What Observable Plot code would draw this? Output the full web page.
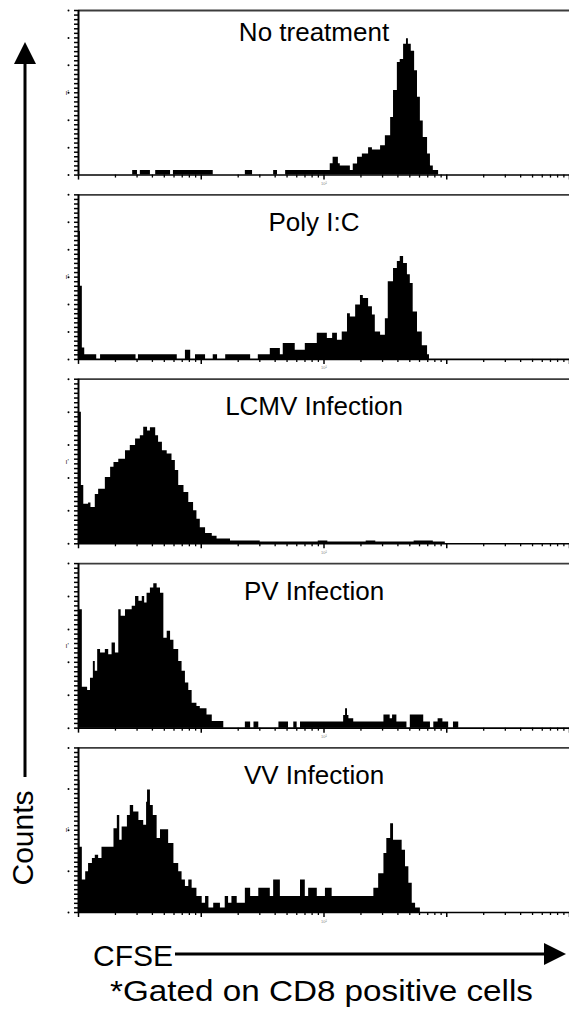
<!DOCTYPE html>
<html>
<head>
<meta charset="utf-8">
<script src="https://cdn.jsdelivr.net/npm/d3@7"></script>
<script src="https://cdn.jsdelivr.net/npm/@observablehq/plot@0.6"></script>
<style>
  html, body { margin: 0; padding: 0; background: #fff; }
  #wrap { position: relative; width: 569px; height: 1014px; font-family: "Liberation Sans", Arial, Helvetica, sans-serif; }
  #wrap svg { display: block; }
  #counts { position: absolute; left: 0; top: 0; }
</style>
</head>
<body>
<div id="wrap"></div>
<script>
// ---------- data (CFSE channel 0..1023 over 4 log decades, count) ----------
const panels = ["No treatment", "Poly I:C", "LCMV Infection", "PV Infection", "VV Infection"];
const yMax = [36, 36, 35, 35, 36];          // top of each panel's count axis
const yMajorStep = [6, 6, 7, 7, 9];          // labelled count ticks per panel
const decades = [1, 10, 100, 1000, 10000];
const minorMultipliers = [2, 3, 4, 5, 6, 7, 8, 9];

const noTreatment = [[0,0],[113,1],[123,0],[129,1],[150,0],[161,1],[192,0],[198,1],[281,0],[348,1],[363,0],[407,1],[415,0],[432,1],[525,2.5],[531,3.9],[542,2.5],[546,2],[567,1],[573,2.4],[582,3.9],[592,4.6],[605,6],[613,5.5],[630,6.4],[640,8.6],[651,12.6],[657,18.5],[665,24.6],[671,25.3],[678,28.6],[684,29.8],[688,28.6],[694,27.1],[701,22.8],[707,17],[713,11.8],[719,8.2],[728,4.6],[734,2],[740,1],[751,0],[1023,0]];

const polyIC = [[0,28],[4,16],[8,2.5],[13,1],[38,0],[46,1],[120,0],[125,1],[206,0],[223,2],[234,0],[244,1],[265,0],[281,1],[290,0],[307,1],[359,0],[375,1],[400,2.4],[421,1],[427,3.5],[452,2],[473,3.5],[498,5.7],[519,4.6],[530,5.7],[540,4.2],[550,6],[561,10],[567,9.3],[578,11.9],[588,14],[594,13.3],[605,11.5],[613,9.7],[619,6],[630,5.3],[640,8.9],[646,17],[657,19.9],[665,21.4],[671,22.5],[678,21],[686,18.5],[692,16.6],[698,10.4],[707,6],[717,3],[728,1],[732,0],[1023,0]];

const lcmv = [[0,28],[6,12.4],[11,8.4],[21,8.7],[26,7.7],[35,10.5],[42,11.6],[56,14.1],[67,16.3],[74,17.3],[84,18],[98,19.8],[108,20.9],[119,22.3],[129,23],[136,24.8],[144,24],[150,24.7],[161,23],[167,21.6],[175,19.8],[185,19.1],[195,17.7],[202,15.6],[209,12.4],[220,10.9],[230,8.8],[240,7],[247,5.2],[254,3.4],[265,2.2],[279,1.6],[289,1],[317,0.6],[379,0.4],[500,0.6],[520,0.4],[600,0.6],[620,0.4],[700,0.6],[740,0.4],[765,0],[1023,0]];

const pv = [[0,25.2],[8,8.7],[19,8],[25,10.6],[31,14.2],[35,12.1],[40,16.7],[46,16],[56,16.7],[63,15.6],[70,18.1],[77,16],[84,25.2],[89,23.8],[98,25.2],[112,25.9],[119,28],[126,27],[133,28],[138,26.6],[143,28.7],[150,29.8],[157,30.7],[164,29.8],[171,28.7],[178,19.1],[185,20.6],[192,18.7],[199,16.7],[209,14.2],[216,12.1],[223,9.6],[230,8],[237,5.3],[247,4.6],[254,4.1],[268,2.8],[279,1.4],[303,0],[348,1.3],[359,0],[366,1.3],[376,0],[418,1.3],[438,0],[449,1.3],[456,0],[463,1.3],[553,2.7],[557,4.1],[561,2.7],[564,2],[574,1.3],[637,2.8],[650,2],[655,2.8],[664,1.3],[685,0],[692,2.8],[720,1.3],[734,0],[741,1.3],[750,2],[760,1.3],[772,0],[782,1.3],[793,0],[1023,0]];

const vv = [[0,28.9],[3,14.3],[8,7.1],[15,8.9],[21,10.7],[29,11.8],[35,12.5],[42,11.8],[49,14.3],[74,18.3],[81,21.2],[86,15.8],[91,18.7],[102,21.2],[108,23.4],[115,22],[126,20.1],[136,19.1],[142,24.1],[144,26.8],[150,23.4],[156,21.2],[164,16.2],[171,18.1],[188,15.1],[199,10.7],[209,8.9],[216,7.1],[223,5.7],[230,7.1],[237,5.3],[247,3.5],[258,2],[265,3.5],[272,1],[282,2],[296,1],[306,3.5],[313,2],[320,3.5],[331,2],[348,5.3],[359,3.5],[376,5.3],[400,3.5],[407,7.1],[421,3.5],[463,7.1],[473,3.5],[480,5.3],[498,3.5],[515,5.3],[529,3.5],[616,5.3],[626,8.5],[637,12.9],[643,16.2],[651,19.4],[657,15.8],[675,13.6],[682,10],[689,6.4],[696,2],[703,1],[713,0],[1023,0]];

const series = [noTreatment, polyIC, lcmv, pv, vv];

// ---------- tables built from the arrays ----------
const hist = [];
panels.forEach((p, i) => series[i].forEach(([ch, c]) => hist.push({panel: p, x: Math.pow(10, ch / 256), y: c / yMax[i]})));

const yTicks = [];
panels.forEach((p, i) => { for (let k = 0; k <= yMax[i]; k++) yTicks.push({panel: p, y: k / yMax[i], major: k % yMajorStep[i] === 0}); });

const minorX = [];
decades.slice(0, -1).forEach(d => minorMultipliers.forEach(m => minorX.push(d * m)));

// ---------- layout ----------
const W = 569, H = 925, mL = 78, mR = 0, mT = 10, mB = 13;
const pIn = 0.1074;
const L = H - mT - mB;
const step = L / (panels.length - pIn);
const bw = step * (1 - pIn);
const frameW = W - mL - mR;
const font = "'Liberation Sans', Arial, Helvetica, sans-serif";

const chart = Plot.plot({
  width: W, height: H,
  marginLeft: mL, marginRight: mR, marginTop: mT, marginBottom: mB,
  style: {fontFamily: font, background: "#fff"},
  x: {type: "log", domain: [1, 10000], axis: null},
  y: {domain: [0, 1], axis: null},
  fy: {domain: panels, axis: null, paddingInner: pIn, paddingOuter: 0, round: false},
  marks: [
    Plot.areaY(hist, {x: "x", y: "y", fy: "panel", curve: "step-after", fill: "#000"}),
    Plot.ruleY([1], {stroke: "#3c3c3c", strokeWidth: 1.8}),
    Plot.ruleY([0], {stroke: "#000", strokeWidth: 1.6}),
    Plot.ruleX([1], {stroke: "#000", strokeWidth: 2}),
    Plot.tickY(yTicks, {y: "y", fy: "panel", insetLeft: -4, insetRight: frameW, stroke: "#000", strokeWidth: 1.5}),
    Plot.dot(yTicks.filter(d => d.major), {y: "y", fy: "panel", frameAnchor: "left", dx: -10, r: 1, fill: "#000", stroke: null}),
    Plot.text(panels, {fy: d => d, y: () => 0.5, frameAnchor: "left", dx: -13, text: () => "ı'", fontSize: 7, fill: "#222"}),
    Plot.tickX(minorX, {x: d => d, insetTop: bw, insetBottom: -3, stroke: "#000", strokeWidth: 1.3}),
    Plot.tickX(decades, {x: d => d, insetTop: bw, insetBottom: -5, stroke: "#000", strokeWidth: 1.5}),
    Plot.text([decades[2]], {x: d => d, frameAnchor: "bottom", dy: 10, text: () => "10²", fontSize: 4, fill: "#888"}),
    Plot.text(panels.slice(0, 1), {fy: d => d, text: d => d, frameAnchor: "top", dx: -10, dy: 30, lineAnchor: "bottom", fontSize: 26, fill: "#000"}),
    Plot.text(panels.slice(1), {fy: d => d, text: d => d, frameAnchor: "top", dx: -10, dy: 36, lineAnchor: "bottom", fontSize: 26, fill: "#000"})
  ]
});

const wrap = document.getElementById("wrap");
wrap.appendChild(chart);

// Counts arrow (left margin)
const ns = "http://www.w3.org/2000/svg";
const left = document.createElementNS(ns, "svg");
left.setAttribute("id", "counts");
left.setAttribute("width", 60);
left.setAttribute("height", H);
left.innerHTML = `
  <line x1="25" y1="62" x2="25" y2="777" stroke="#000" stroke-width="3"/>
  <polygon points="25,42 14,64 36,64" fill="#000"/>
  <text transform="translate(33,838) rotate(-90)" text-anchor="middle" font-size="30" font-family="${font}" fill="#000">Counts</text>`;
wrap.appendChild(left);

// CFSE arrow and caption below the chart
const bottom = document.createElementNS(ns, "svg");
bottom.setAttribute("width", W);
bottom.setAttribute("height", 1014 - H);
bottom.innerHTML = `
  <text x="93" y="41" font-size="30" font-family="${font}" fill="#000">CFSE</text>
  <line x1="175" y1="29" x2="546" y2="29" stroke="#000" stroke-width="3"/>
  <polygon points="544,18 566,29 544,40" fill="#000"/>
  <text x="321.5" y="76" text-anchor="middle" font-size="29" textLength="423" lengthAdjust="spacingAndGlyphs" font-family="${font}" fill="#000">*Gated on CD8 positive cells</text>`;
wrap.appendChild(bottom);
</script>
</body>
</html>
